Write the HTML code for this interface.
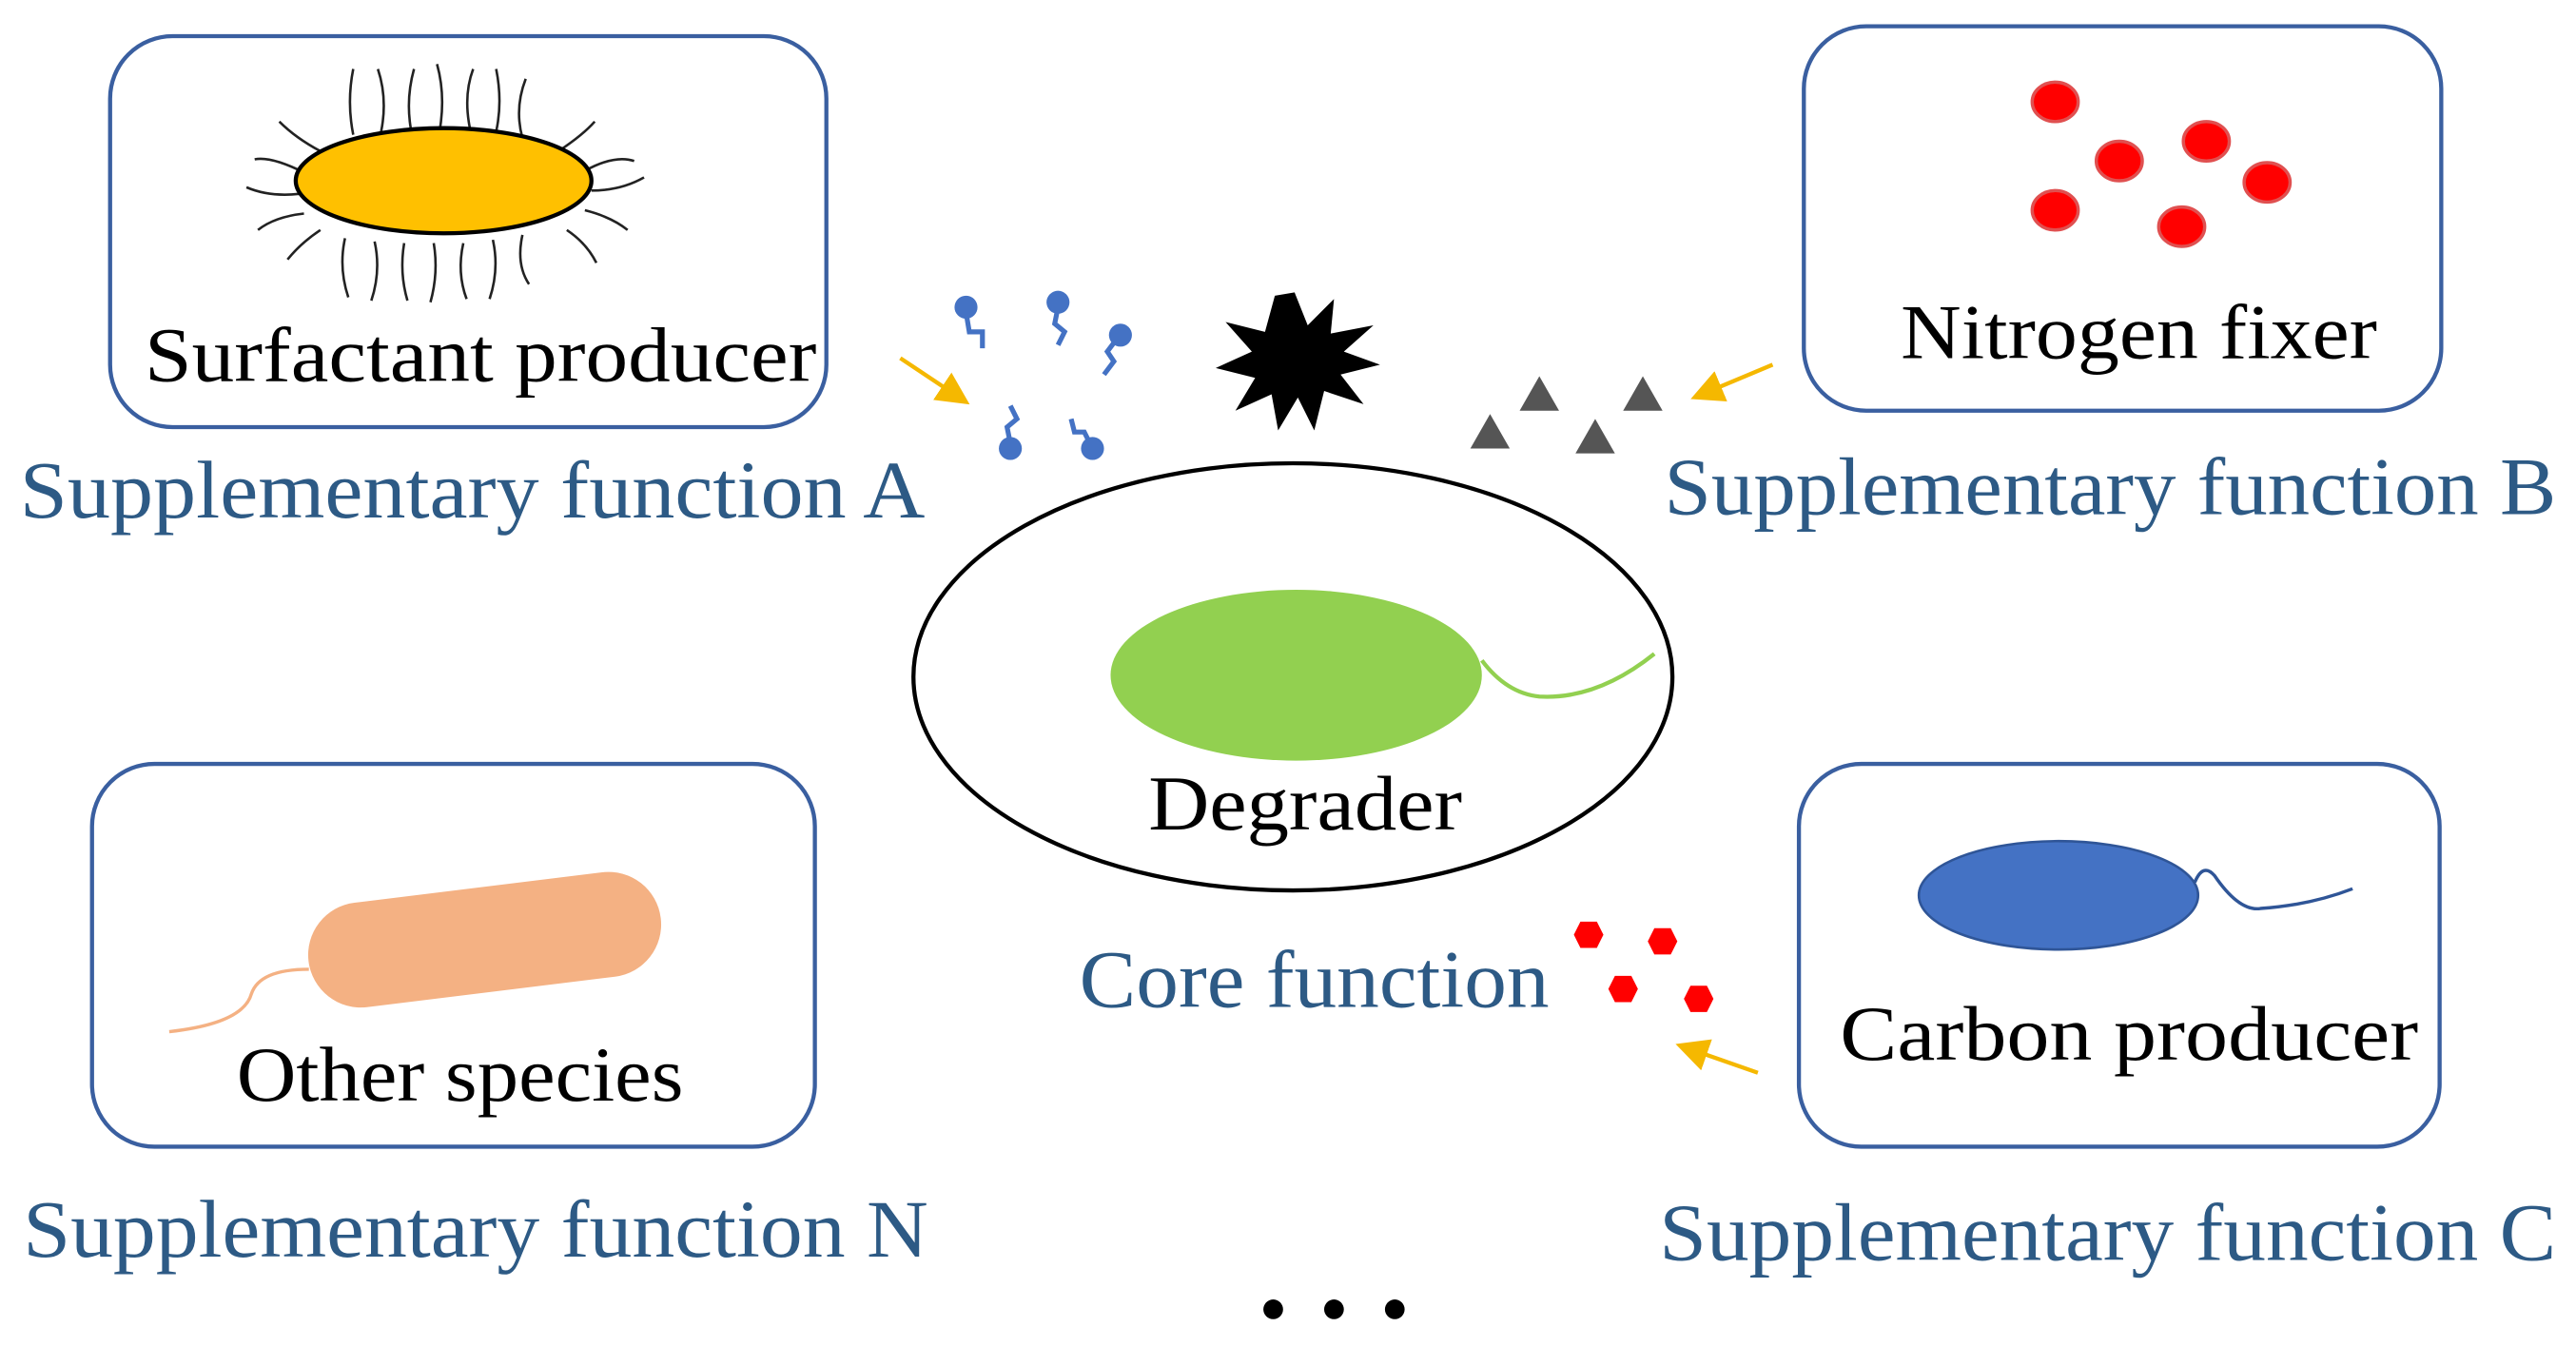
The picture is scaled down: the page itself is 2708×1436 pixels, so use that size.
<!DOCTYPE html>
<html><head><meta charset="utf-8"><style>
html,body{margin:0;padding:0;background:#fff;width:2708px;height:1436px;overflow:hidden}
svg{display:block}
text{font-family:"Liberation Serif",serif}
.lb{font-size:47px;fill:#000}
.sf{font-size:50px;fill:#2d5a85}
</style></head><body>
<svg width="2708" height="1436" viewBox="0 0 1568 831.5" xmlns="http://www.w3.org/2000/svg">
<defs>
<marker id="ah" markerWidth="8" markerHeight="8" refX="5" refY="4" orient="auto" markerUnits="strokeWidth"><path d="M0,0 L8,4 L0,8 z" fill="#f5b800"/></marker>
</defs>
<!-- Box A -->
<rect x="67" y="22" width="436" height="238" rx="38" fill="none" stroke="#3a5fa0" stroke-width="2.5"/>
<g stroke="#222" stroke-width="1.5" fill="none">
<path d="M215 82 q-4 -20 0 -40"/><path d="M232 80 q4 -20 -2 -38"/><path d="M250 78 q-3 -18 2 -36"/><path d="M268 77 q3 -20 -2 -38"/><path d="M286 78 q-4 -20 2 -36"/><path d="M302 80 q4 -18 0 -38"/><path d="M318 84 q-5 -18 2 -36"/>
<path d="M210 145 q-4 18 2 36"/><path d="M228 147 q4 18 -2 36"/><path d="M246 148 q-3 18 2 35"/><path d="M264 148 q3 18 -2 36"/><path d="M282 148 q-4 18 2 34"/><path d="M300 146 q4 18 -2 36"/><path d="M318 143 q-4 18 4 30"/>
<path d="M195 92 q-15 -8 -25 -18"/><path d="M185 105 q-20 -10 -30 -8"/><path d="M182 118 q-18 2 -32 -4"/><path d="M185 130 q-18 2 -28 10"/><path d="M195 140 q-12 8 -20 18"/>
<path d="M340 92 q15 -10 22 -18"/><path d="M356 104 q18 -10 30 -6"/><path d="M360 116 q18 0 32 -8"/><path d="M356 128 q16 4 26 12"/><path d="M345 140 q12 8 18 20"/>
</g>
<ellipse cx="270" cy="110" rx="90" ry="32" fill="#ffc000" stroke="#000" stroke-width="2.5"/>
<text class="lb" x="88" y="232" textLength="409" lengthAdjust="spacingAndGlyphs">Surfactant producer</text>
<text class="sf" x="12" y="315" textLength="551" lengthAdjust="spacingAndGlyphs">Supplementary  function A</text>
<!-- Box B -->
<rect x="1098" y="16" width="388" height="234" rx="38" fill="none" stroke="#3a5fa0" stroke-width="2.5"/>
<g fill="#ff0000" stroke="#e05050" stroke-width="2">
<ellipse cx="1251" cy="62" rx="14" ry="12"/><ellipse cx="1290" cy="98" rx="14" ry="12"/><ellipse cx="1343" cy="86" rx="14" ry="12"/><ellipse cx="1380" cy="111" rx="14" ry="12"/><ellipse cx="1251" cy="128" rx="14" ry="12"/><ellipse cx="1328" cy="138" rx="14" ry="12"/>
</g>
<text class="lb" x="1157" y="218" textLength="290" lengthAdjust="spacingAndGlyphs">Nitrogen fixer</text>
<text class="sf" x="1013" y="313" textLength="543" lengthAdjust="spacingAndGlyphs">Supplementary  function B</text>
<!-- Center -->
<ellipse cx="787" cy="412" rx="231" ry="130" fill="none" stroke="#000" stroke-width="2.5"/>
<ellipse cx="789" cy="411" rx="113" ry="52" fill="#92d050"/>
<path d="M902 402 q15 20 35 22 q35 2 70 -26" fill="none" stroke="#92d050" stroke-width="2.5"/>
<text class="lb" x="699" y="505" textLength="191" lengthAdjust="spacingAndGlyphs">Degrader</text>
<text class="sf" x="657" y="613" textLength="286" lengthAdjust="spacingAndGlyphs">Core function</text>
<!-- star -->
<polygon fill="#000" points="788,178 796,198 812,182 810,203 836,198 818,214 840,222 816,228 830,246 806,238 800,262 790,242 778,262 774,240 752,250 764,230 740,224 762,214 746,196 770,202 776,180"/>
<!-- triangles -->
<g fill="#555"><polygon points="895,273 919,273 907,252"/><polygon points="925,250 949,250 937,229"/><polygon points="959,276 983,276 971,255"/><polygon points="988,250 1012,250 1000,229"/></g>
<!-- molecules -->
<g stroke="#4472c4" stroke-width="3" fill="none">
<path d="M588 190 l2 12 l8 0 l0 10"/><path d="M644 187 l-2 10 l6 5 l-4 8"/><path d="M680 206 l-6 8 l4 6 l-6 8"/><path d="M615 270 l-2 -10 l6 -5 l-4 -8"/><path d="M664 271 l-4 -8 l-6 0 l-2 -8"/>
</g>
<g fill="#4472c4"><circle cx="588" cy="187" r="7"/><circle cx="644" cy="184" r="7"/><circle cx="682" cy="204" r="7"/><circle cx="615" cy="273" r="7"/><circle cx="665" cy="273" r="7"/></g>
<!-- arrows -->
<g stroke="#f5b800" stroke-width="2.5" fill="none">
<line x1="548" y1="218" x2="584" y2="242" marker-end="url(#ah)"/>
<line x1="1079" y1="222" x2="1036" y2="240" marker-end="url(#ah)"/>
<line x1="1070" y1="653" x2="1027" y2="638" marker-end="url(#ah)"/>
</g>
<!-- Box N -->
<rect x="56" y="465" width="440" height="233" rx="38" fill="none" stroke="#3a5fa0" stroke-width="2.5"/>
<path d="M188 590 q-30 0 -35 15 q-5 18 -50 23" fill="none" stroke="#f4b183" stroke-width="2"/>
<g transform="rotate(-7 295 572)"><rect x="187" y="540" width="216" height="64" rx="32" fill="#f4b183"/></g>
<text class="lb" x="144" y="670" textLength="272" lengthAdjust="spacingAndGlyphs">Other species</text>
<text class="sf" x="14" y="765" textLength="551" lengthAdjust="spacingAndGlyphs">Supplementary  function N</text>
<!-- Box C -->
<rect x="1095" y="465" width="390" height="233" rx="38" fill="none" stroke="#3a5fa0" stroke-width="2.5"/>
<ellipse cx="1253" cy="545" rx="85" ry="33" fill="#4472c4" stroke="#2f5597" stroke-width="1.5"/>
<path d="M1336 537 q5 -12 12 -4 q15 22 28 20 q30 -2 56 -12" fill="none" stroke="#2f5597" stroke-width="2"/>
<text class="lb" x="1120" y="645" textLength="352" lengthAdjust="spacingAndGlyphs">Carbon producer</text>
<text class="sf" x="1010" y="767" textLength="546" lengthAdjust="spacingAndGlyphs">Supplementary  function C</text>
<!-- hexagons -->
<g fill="#ff0000">
<polygon points="962,561 972,561 976,569 972,577 962,577 958,569"/>
<polygon points="1007,565 1017,565 1021,573 1017,581 1007,581 1003,573"/>
<polygon points="983,594 993,594 997,602 993,610 983,610 979,602"/>
<polygon points="1029,600 1039,600 1043,608 1039,616 1029,616 1025,608"/>
</g>
<g fill="#000"><circle cx="775" cy="797" r="6"/><circle cx="812" cy="797" r="6"/><circle cx="849" cy="797" r="6"/></g>
</svg>
</body></html>
